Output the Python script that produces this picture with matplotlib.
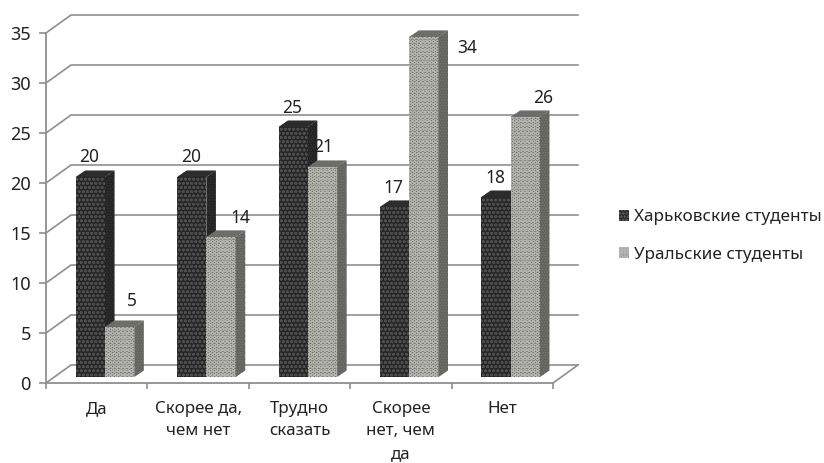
import matplotlib
matplotlib.use("Agg")
import matplotlib.pyplot as plt
from matplotlib.patches import Patch, Polygon
from matplotlib.transforms import Bbox

categories = ["Да", "Скорее да,\nчем нет", "Трудно\nсказать", "Скорее\nнет, чем\nда", "Нет"]
kharkiv = [20, 20, 25, 17, 18]
ural = [5, 14, 21, 34, 26]
series_names = ["Харьковские студенты", "Уральские студенты"]
y_ticks = [0, 5, 10, 15, 20, 25, 30, 35]

# pixel offsets of the value labels from the top centre of each bar
kharkiv_offsets = [(-1, 20), (-1, 20), (-1, 19), (-1, 19), (-1, 19)]
ural_offsets = [(12, 26), (19, 19), (1, 20), (43, -11), (18, 19)]

plt.rcParams["font.family"] = ["Noto Sans", "DejaVu Sans"]
plt.rcParams["hatch.linewidth"] = 0.8

W, H = 824, 463
fig = plt.figure(figsize=(W / 100, H / 100), dpi=100, facecolor="white")
ax = fig.add_axes([46 / W, (H - 383) / H, (553 - 46) / W, 350 / H])
ax.set_xlim(0, 5)
ax.set_ylim(0, 35)

PX_X = 5 / (553 - 46)   # data units per pixel, horizontally
PX_Y = 35 / 350         # data units per pixel, vertically
GRID = "#8f8f8f"
TEXT = "#222222"

# 3D-style floor and back wall
wall_dx, wall_dy = 25 * PX_X, 18 * PX_Y
for v in y_ticks:
    ax.plot([0, wall_dx, 5 + wall_dx], [v, v + wall_dy, v + wall_dy],
            color=GRID, lw=1.2, clip_on=False, zorder=1, solid_joinstyle="miter")
ax.plot([5 + wall_dx, 5], [wall_dy, 0], color=GRID, lw=1.2, clip_on=False, zorder=1)

for name in ("top", "right"):
    ax.spines[name].set_visible(False)
for name in ("left", "bottom"):
    ax.spines[name].set_color(GRID)
    ax.spines[name].set_linewidth(1.3)

ax.set_yticks(y_ticks)
ax.set_xticks(range(6))
ax.set_xticklabels([])
ax.set_xticks([i + 0.5 for i in range(5)], categories, minor=True)
ax.tick_params(axis="y", length=5, width=1.2, color=GRID, pad=6, labelsize=13, labelcolor=TEXT)
ax.tick_params(axis="x", which="major", length=4, width=1.2, color=GRID)
ax.tick_params(axis="x", which="minor", length=0, pad=13, labelsize=12.2, labelcolor=TEXT)
for label in ax.get_xticklabels(minor=True):
    label.set_linespacing(1.53)

# the figure's text is cut by its frame in a few places
for label in ax.get_xticklabels(minor=True)[1:3]:
    label.set_clip_on(True)
    label.set_clip_box(Bbox([[0, H - 438], [W, H]]))
top_label = ax.get_yticklabels()[-1]
top_label.set_clip_on(True)
top_label.set_clip_box(Bbox([[0, 0], [W, H - 27]]))

bar_w = 29.3 * PX_X
base = 6 * PX_Y
depth_x, depth_y = 9.5 * PX_X, 6.5 * PX_Y
group_shift = 8.3 * PX_X


def draw_bars(xs, values, front, dots, side, side_dots, top, hatch, z):
    ax.bar(xs, values, width=bar_w, bottom=base, color=front, edgecolor=dots,
           hatch=hatch, linewidth=0, zorder=z)
    for x, v in zip(xs, values):
        l, r = x - bar_w / 2, x + bar_w / 2
        t = base + v
        ax.add_patch(Polygon([(r, base), (r + depth_x, base + depth_y),
                              (r + depth_x, t + depth_y), (r, t)],
                             facecolor=side, edgecolor=side_dots, hatch="......", lw=0,
                             clip_on=False, zorder=z))
        ax.add_patch(Polygon([(l, t), (l + depth_x, t + depth_y),
                              (r + depth_x, t + depth_y), (r, t)],
                             facecolor=top, edgecolor=side_dots, hatch="......", lw=0,
                             clip_on=False, zorder=z))


centres = [i + 0.5 + group_shift for i in range(5)]
xs_dark = [c - bar_w / 2 for c in centres]
xs_light = [c + bar_w / 2 for c in centres]

draw_bars(xs_dark, kharkiv, "#262626", "#4e4e4e", "#232323", "#333333", "#2a2a2a", "oooo", 3)
draw_bars(xs_light, ural, "#6c6c67", "#b4b4ae", "#62625e", "#757571", "#6a6a66", "OOOO", 4)


def value_labels(xs, values, offsets):
    for x, v, off in zip(xs, values, offsets):
        ax.annotate(str(v), (x, base + v), xytext=(off[0] * 0.72, off[1] * 0.72),
                    textcoords="offset points", ha="center", va="center",
                    fontsize=12.5, color=TEXT, zorder=6, annotation_clip=False)


value_labels(xs_dark, kharkiv, kharkiv_offsets)
value_labels(xs_light, ural, ural_offsets)

handles = [
    Patch(facecolor="#262626", edgecolor="#4e4e4e", hatch="ooooo", lw=0),
    Patch(facecolor="#6c6c67", edgecolor="#b4b4ae", hatch="OOOOO", lw=0),
]
fig.legend(handles, series_names, loc="center left", bbox_to_anchor=(619 / W, 1 - 236 / H),
           frameon=False, fontsize=12.35, labelcolor=TEXT, handlelength=0.58, handleheight=0.6,
           handletextpad=0.32, labelspacing=1.25, borderaxespad=0, borderpad=0)

fig.savefig("out.png", dpi=100, facecolor="white")
